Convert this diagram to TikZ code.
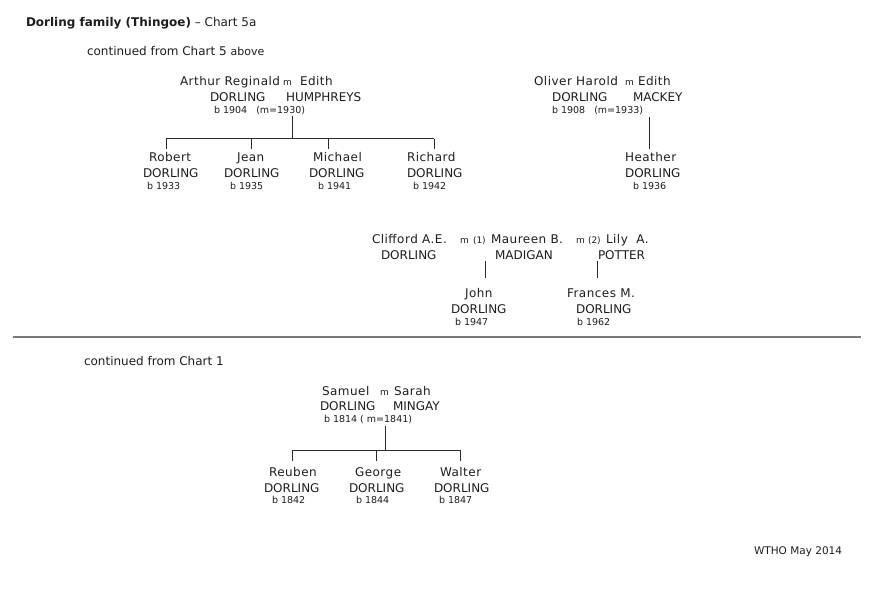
\documentclass[tikz,border=0pt]{standalone}
\usepackage{fontspec}
\setmainfont{DejaVu Sans}
\newfontfamily\namefont[LetterSpace=4]{DejaVu Sans}
\definecolor{txt}{HTML}{1E1E1E}
\definecolor{lncol}{HTML}{2A2A2A}
\definecolor{rule}{HTML}{7A7A7A}
\begin{document}
\begin{tikzpicture}[x=1pt,y=-1pt,
  every node/.style={inner sep=0pt, outer sep=0pt, anchor=base west, text=txt},
  nm/.style={font=\fontsize{12}{14}\selectfont},
  fn/.style={font=\namefont\fontsize{12}{14}\selectfont},
  sm/.style={font=\fontsize{9.5}{11}\selectfont},
  mm/.style={font=\fontsize{9}{10}\selectfont},
  ln/.style={draw=lncol, line width=1pt}]
\useasboundingbox[fill=white] (0,0) rectangle (890,593);

% title
\node[nm] (title) at (26,27) {\textbf{Dorling family (Thingoe)} – Chart 5a};
\node[nm] (cont5) at (87,56) {continued from Chart 5 \fontsize{11}{12}\selectfont above};

% Arthur Reginald family
\node[fn] (arthur) at (180,86) {Arthur Reginald};
\node[mm] (am) at (283,86) {m};
\node[fn] (edithh) at (300,86) {Edith};
\node[nm] (ardor) at (210,102) {DORLING};
\node[nm] (hump) at (286,102) {HUMPHREYS};
\node[sm] (arb) at (214,114) {b 1904\ \ \ (m=1930)};
\coordinate (arm) at (292,116);
\coordinate (arbar) at (292,139);
\coordinate (bRob) at (166,139);
\coordinate (bJea) at (251,139);
\coordinate (bMic) at (328,139);
\coordinate (bRic) at (434,139);
\coordinate (dRob) at (166,149);
\coordinate (dJea) at (251,149);
\coordinate (dMic) at (328,149);
\coordinate (dRic) at (434,149);
\draw[ln] (arm) -- (arbar);
\draw[ln] (bRob) -- (bRic);
\draw[ln] (bRob) -- (dRob);
\draw[ln] (bJea) -- (dJea);
\draw[ln] (bMic) -- (dMic);
\draw[ln] (bRic) -- (dRic);

\node[fn] (robert) at (149,162) {Robert};
\node[nm] (robd) at (143,178) {DORLING};
\node[sm] (robb) at (147,190) {b 1933};
\node[fn] (jean) at (237,162) {Jean};
\node[nm] (jead) at (224,178) {DORLING};
\node[sm] (jeab) at (230,190) {b 1935};
\node[fn] (michael) at (313,162) {Michael};
\node[nm] (micd) at (309,178) {DORLING};
\node[sm] (micb) at (318,190) {b 1941};
\node[fn] (richard) at (407,162) {Richard};
\node[nm] (ricd) at (407,178) {DORLING};
\node[sm] (ricb) at (413,190) {b 1942};

% Oliver Harold family
\node[fn] (oliver) at (534,86) {Oliver Harold};
\node[mm] (om) at (625,86) {m};
\node[fn] (editm) at (638,86) {Edith};
\node[nm] (oldor) at (552,102) {DORLING};
\node[nm] (mackey) at (633,102) {MACKEY};
\node[sm] (olb) at (552,114) {b 1908\ \ \ (m=1933)};
\coordinate (olm) at (649,117);
\coordinate (heat) at (649,149);
\draw[ln] (olm) -- (heat);
\node[fn] (heather) at (625,162) {Heather};
\node[nm] (head) at (625,178) {DORLING};
\node[sm] (heab) at (633,190) {b 1936};

% Clifford family
\node[fn] (clifford) at (372,244) {Clifford A.E.};
\node[mm] (cm1) at (460,244) {m};
\node[mm] (c1) at (473,244) {(1)};
\node[fn] (maureen) at (491,244) {Maureen B.};
\node[mm] (cm2) at (576,244) {m};
\node[mm] (c2) at (588,244) {(2)};
\node[fn] (lily) at (606,244) {Lily\ \ A.};
\node[nm] (cldor) at (381,259) {DORLING};
\node[nm] (madigan) at (495,259) {MADIGAN};
\node[nm] (potter) at (598,259) {POTTER};
\coordinate (mm1) at (485,261);
\coordinate (john1) at (485,278);
\coordinate (mm2) at (597,261);
\coordinate (fran1) at (597,278);
\draw[ln] (mm1) -- (john1);
\draw[ln] (mm2) -- (fran1);
\node[fn] (john) at (465,298) {John};
\node[nm] (johd) at (451,313) {DORLING};
\node[sm] (johb) at (455,325) {b 1947};
\node[fn] (frances) at (567,298) {Frances M.};
\node[nm] (frad) at (576,313) {DORLING};
\node[sm] (frab) at (577,325) {b 1962};

% separator
\coordinate (rl) at (13,337);
\coordinate (rr) at (861,337);
\draw[draw=rule, line width=1.6pt] (rl) -- (rr);

% Samuel family
\node[nm] (cont1) at (84,365) {continued from Chart 1};
\node[fn] (samuel) at (322,395) {Samuel};
\node[mm] (sm) at (380,395) {m};
\node[fn] (sarah) at (394,395) {Sarah};
\node[nm] (samd) at (320,410) {DORLING};
\node[nm] (mingay) at (393,410) {MINGAY};
\node[sm] (samb) at (324,422) {b 1814 ( m=1841)};
\coordinate (sam) at (385,426);
\coordinate (sabar) at (385,450);
\coordinate (bReu) at (292,450);
\coordinate (bGeo) at (376,450);
\coordinate (bWal) at (460,450);
\coordinate (dReu) at (292,461);
\coordinate (dGeo) at (376,461);
\coordinate (dWal) at (460,461);
\draw[ln] (sam) -- (sabar);
\draw[ln] (bReu) -- (bWal);
\draw[ln] (bReu) -- (dReu);
\draw[ln] (bGeo) -- (dGeo);
\draw[ln] (bWal) -- (dWal);
\node[fn] (reuben) at (269,476) {Reuben};
\node[nm] (reud) at (264,492) {DORLING};
\node[sm] (reub) at (272,503) {b 1842};
\node[fn] (george) at (355,476) {George};
\node[nm] (geod) at (349,492) {DORLING};
\node[sm] (geob) at (356,503) {b 1844};
\node[fn] (walter) at (440,476) {Walter};
\node[nm] (wald) at (434,492) {DORLING};
\node[sm] (walb) at (439,503) {b 1847};

\node[font=\fontsize{10.5}{12}\selectfont] (wtho) at (754,554) {WTHO May 2014};
\end{tikzpicture}
\end{document}
